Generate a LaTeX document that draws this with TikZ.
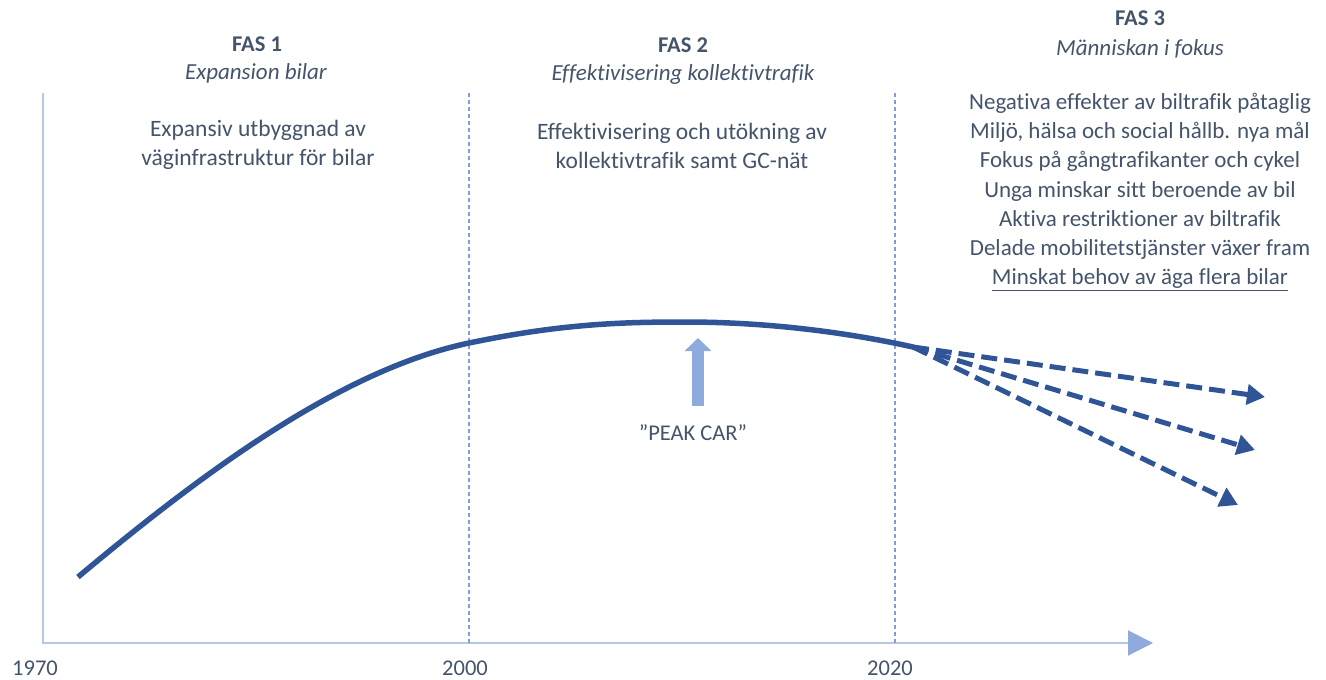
\documentclass[tikz,border=0pt]{standalone}
\usepackage{fontspec}
\setmainfont{Carlito}[Ligatures=NoCommon]
\usetikzlibrary{
  arrows.meta,
  positioning,
}
\definecolor{txt}{HTML}{44546A}
\definecolor{curveblue}{HTML}{2F5597}
\definecolor{axisline}{HTML}{B4C7E7}
\definecolor{axistip}{HTML}{8FAADC}
\definecolor{phaseblue}{HTML}{7F9FD8}

\begin{document}
\begin{tikzpicture}[x=1pt, y=-1pt,
  every node/.style={text=txt, inner sep=0pt},
  head/.style={font=\fontsize{22.5}{26}\selectfont\bfseries},
  sub/.style={font=\fontsize{23}{26}\selectfont\itshape},
  body/.style={font=\fontsize{23.5}{28.5}\selectfont, align=center},
  list/.style={font=\fontsize{23}{29.2}\selectfont, align=center},
  year/.style={font=\fontsize{22.5}{26}\selectfont},
  phase/.style={phaseblue, line width=1.3pt, dash pattern=on 4pt off 3pt},
  scenario/.style={curveblue, line width=5pt, dash pattern=on 16pt off 7pt,
    -{Triangle[length=18pt, width=20pt]}},
]
\useasboundingbox (0,0) rectangle (1326,680);

% axes
\coordinate (top) at (43,93);
\coordinate (origin) at (43,643);
\coordinate (end) at (1153,643);
\draw[axisline, line width=2pt, -{Triangle[length=25pt, width=25pt, color=axistip]}]
  (top) -- (origin) -- (end);

% phase borders
\coordinate (b2000) at (469,93);
\coordinate (b2020) at (895,93);
\draw[phase] (b2000) -- (b2000 |- origin);
\draw[phase] (b2020) -- (b2020 |- origin);

\node[year] (y1970) at (35,668) {1970};
\node[year] (y2000) at (465,668) {2000};
\node[year] (y2020) at (890,668) {2020};

% headings
\node[head] (fas1) at (257,44) {FAS 1};
\node[sub] (fas1sub) at (256,73) {Expansion bilar};
\node[head] (fas2) at (683,45) {FAS 2};
\node[sub] (fas2sub) at (683,74) {Effektivisering kollektivtrafik};
\node[head] (fas3) at (1140,18) {FAS 3};
\node[sub] (fas3sub) at (1140,49) {Människan i fokus};

\node[body] (fas1txt) at (258,145) {Expansiv utbyggnad av\\väginfrastruktur för bilar};
\node[body] (fas2txt) at (682,146) {Effektivisering och utökning av\\kollektivtrafik samt GC-nät};
\node[list] (fas3txt) at (1140,192) {Negativa effekter av biltrafik påtaglig\\
  Miljö, hälsa och social hållb. nya mål\\
  Fokus på gångtrafikanter och cykel\\
  Unga minskar sitt beroende av bil\\
  Aktiva restriktioner av biltrafik\\
  Delade mobilitetstjänster växer fram\\
  \underline{Minskat behov av äga flera bilar}};

% car curve
\coordinate (start) at (78,577);
\coordinate (split) at (913,347);
\draw[curveblue, line width=5.5pt] (start)
  .. controls (200,475) and (340,370) .. (469,343)
  .. controls (560,324) and (620,322) .. (685,322)
  .. controls (770,322) and (850,333) .. (split);

% scenarios
\coordinate (high) at (1265,397);
\coordinate (mid) at (1255,450);
\coordinate (low) at (1238,505);
\draw[scenario] (split) -- (high);
\draw[scenario] (split) -- (mid);
\draw[scenario] (split) -- (low);

% peak car
\coordinate (peakbase) at (698,406);
\coordinate (peaktip) at (698,338);
\draw[axistip, line width=12pt, -{Triangle[length=13pt, width=26pt]}] (peakbase) -- (peaktip);
\node[year] (peak) at (693,433) {”PEAK CAR”};
\end{tikzpicture}
\end{document}
